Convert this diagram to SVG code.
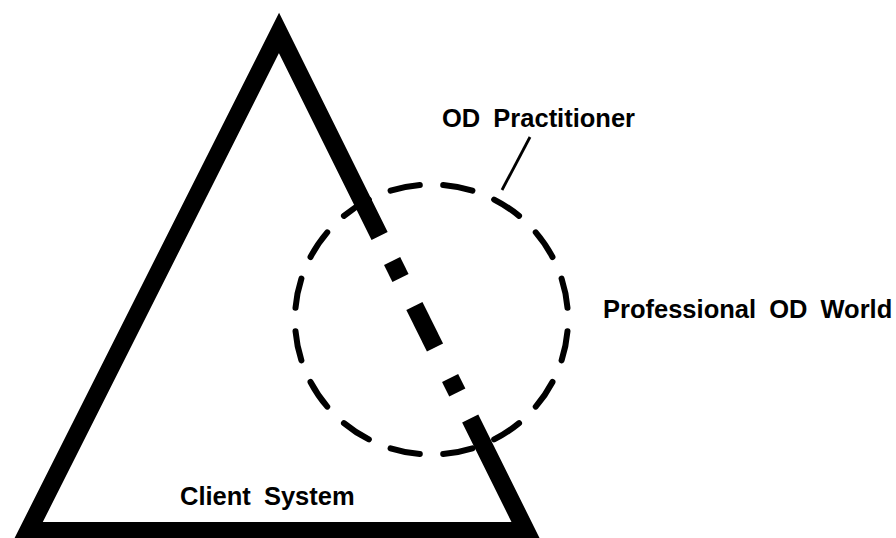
<svg xmlns="http://www.w3.org/2000/svg" width="896" height="538" viewBox="0 0 896 538">
  <style>
    .label { font-family: "Liberation Sans", Arial, Helvetica, sans-serif; font-weight: bold; font-size: 25.5px; word-spacing: 6px; fill: #000; }
    .edge { fill: none; stroke: #000; stroke-width: 18; stroke-linejoin: miter; stroke-linecap: butt; }
    .world { fill: none; stroke: #000; stroke-width: 6; stroke-linecap: round; stroke-dasharray: 56 44; stroke-dashoffset: 78; }
    .pointer { fill: none; stroke: #000; stroke-width: 2.8; stroke-linecap: butt; }
  </style>
  <rect width="896" height="538" fill="#fff"/>

  <!-- professional world: dashed circle -->
  <g id="professional-od-world">
    <ellipse class="world" cx="431.5" cy="319.5" rx="136.5" ry="135" pathLength="1600"/>
    <text class="label" x="603" y="318">Professional OD World</text>
  </g>

  <!-- client system: heavy triangle, its right side broken where the circle overlaps -->
  <g id="client-system">
    <path class="edge" d="M379.6,235.9 L279,33 L28.2,531 L526,531 L470.2,418.5"/>
    <path class="edge" d="M392.1,261.0 L400.5,278.0"/>
    <path class="edge" d="M414.4,306.0 L435.0,347.5"/>
    <path class="edge" d="M450.1,378.0 L457.3,392.5"/>
    <text class="label" x="180" y="505">Client System</text>
  </g>

  <!-- practitioner label -->
  <g id="od-practitioner">
    <text class="label" x="442" y="127">OD Practitioner</text>
  </g>

  <!-- leader line from the label to the circle -->
  <g id="connectors">
    <line class="pointer" x1="530" y1="137" x2="502" y2="190"/>
  </g>
</svg>
